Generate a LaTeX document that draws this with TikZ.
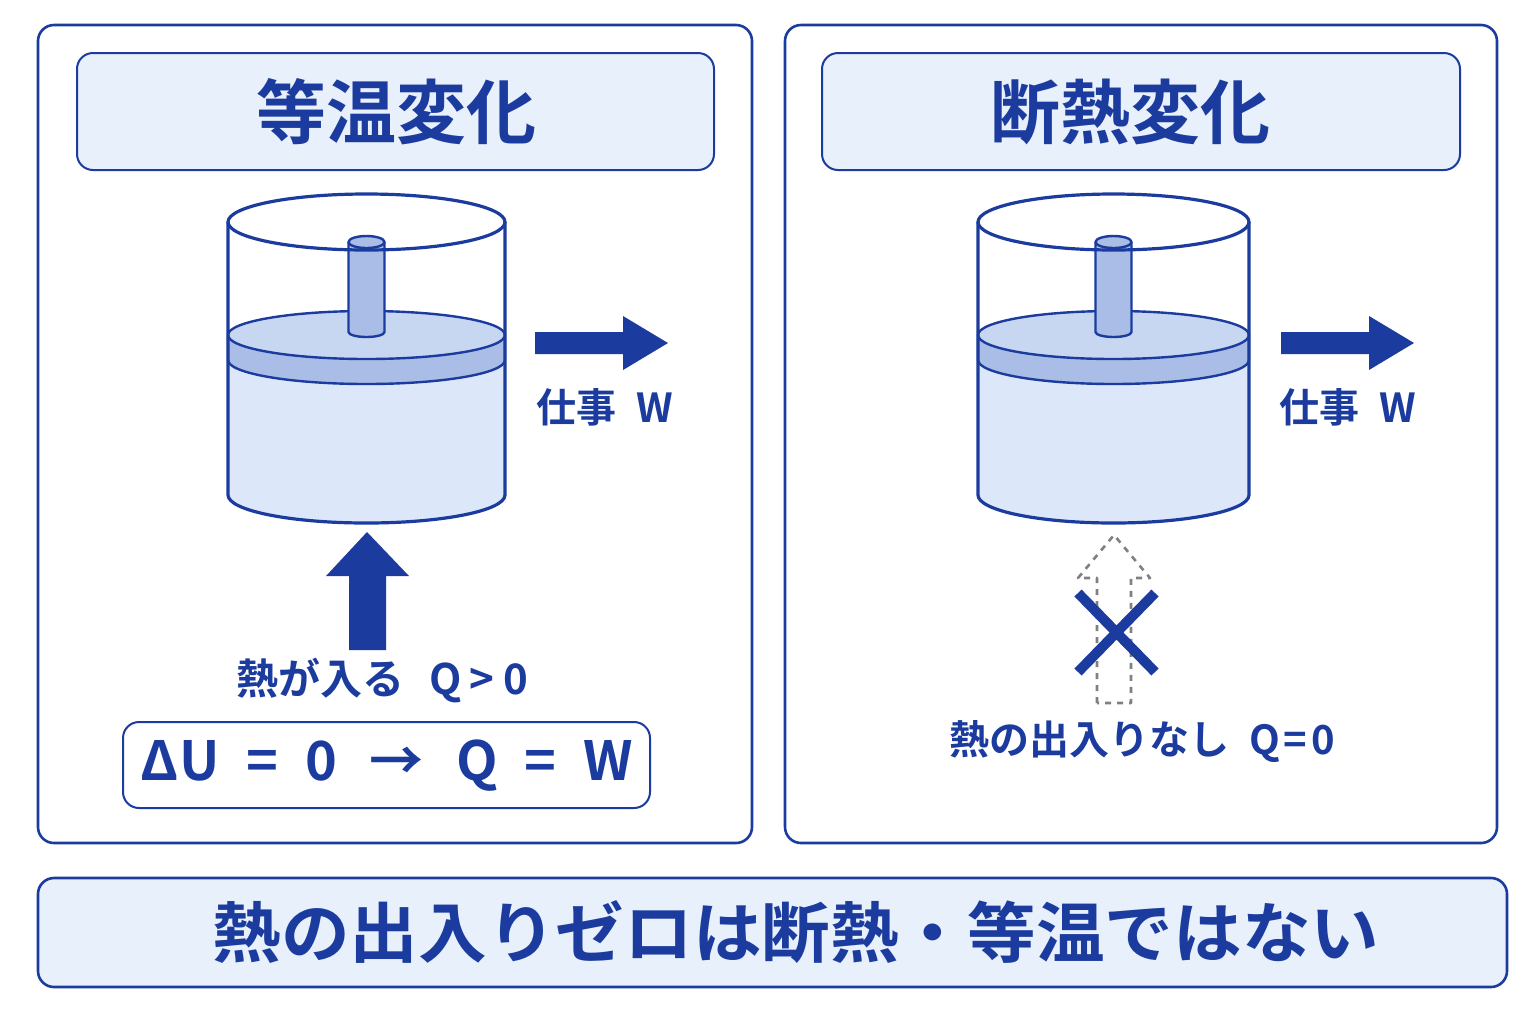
\documentclass[tikz,border=0pt]{standalone}
\usepackage{fontspec}
\setmainfont{Noto Sans CJK JP}[BoldFont={* Bold}]
\begin{document}
\begin{tikzpicture}[x=0.5pt,y=-0.5pt,
 line join=round,
 box/.style={draw=db,line width=1.3pt,rounded corners=8pt},
 tbox/.style={draw=db,fill=lb,line width=1pt,rounded corners=8pt},
 txt/.style={text=db,font=\bfseries}]
\definecolor{db}{HTML}{1B3C9E}
\definecolor{lb}{HTML}{E8F0FB}
\definecolor{liq}{HTML}{DCE8F9}
\definecolor{pis}{HTML}{A9BDE6}
\useasboundingbox (0,0) rectangle (1536,1024);
\fill[white] (0,0) rectangle (1536,1024);
\draw[box] (38,25) rectangle (752,843);
\draw[box] (785,25) rectangle (1497,843);
\draw[tbox] (77,53) rectangle (714,170);
\draw[tbox] (822,53) rectangle (1460,170);
\draw[tbox,line width=1.3pt] (38,878) rectangle (1507,987);
\node[txt,font=\bfseries\fontsize{35}{40}\selectfont] (t1) at (396,112) {等温変化};
\node[txt,font=\bfseries\fontsize{35}{40}\selectfont] (t2) at (1130,112) {断熱変化};
\node[txt,font=\bfseries\fontsize{33}{38}\selectfont,xscale=1.04] (b) at (796,932) {熱の出入りゼロは断熱・等温ではない};
% cylinders
\foreach \xa/\xb in {228/505,978/1249}{
 \pgfmathsetmacro\cx{(\xa+\xb)/2}
 \pgfmathsetmacro\rx{(\xb-\xa)/2}
 \fill[liq] (\xa,360) -- (\xa,495) arc[start angle=180,end angle=0,x radius=\rx,y radius=28] -- (\xb,360) -- cycle;
 % piston
 \fill[pis,draw=db,line width=1.2pt] (\xa,335) -- (\xa,360) arc[start angle=180,end angle=0,x radius=\rx,y radius=24] -- (\xb,335);
 \draw[db,line width=1.2pt,fill=liq!60!pis] (\cx,335) ellipse[x radius=\rx,y radius=24];
 % rod
 \fill[pis,draw=db,line width=1.2pt] (\cx-18,242) -- (\cx-18,332) arc[start angle=180,end angle=0,x radius=18,y radius=5] -- (\cx+18,242);
 \draw[db,line width=1.2pt,fill=pis] (\cx,242) ellipse[x radius=18,y radius=6];
 \draw[db,line width=1.6pt] (\cx,222) ellipse[x radius=\rx,y radius=28];
 \draw[db,line width=1.6pt] (\xa,222) -- (\xa,495) arc[start angle=180,end angle=0,x radius=\rx,y radius=28] -- (\xb,222);
}
% work arrows
\foreach \x in {535,1281}{
 \fill[db] (\x,332) -- (\x+88,332) -- (\x+88,316) -- (\x+133,343) -- (\x+88,370) -- (\x+88,354) -- (\x,354) -- cycle;
}
\node[txt,font=\bfseries\fontsize{20}{22}\selectfont] (w1) at (605,407) {仕事\hspace{0.5em}W};
\node[txt,font=\bfseries\fontsize{20}{22}\selectfont] (w2) at (1348,407) {仕事\hspace{0.5em}W};
% heat in
\fill[db] (349,650) -- (349,576) -- (326,576) -- (367,532) -- (409,576) -- (386,576) -- (386,650) -- cycle;
\node[txt,font=\bfseries\fontsize{21}{24}\selectfont] (q1) at (382,681) {熱が入る\hspace{0.6em}Q\hspace{0.2em}>\hspace{0.2em}0};
\draw[tbox,fill=white] (123,722) rectangle (650,808);
\node[txt,font=\bfseries\fontsize{27}{30}\selectfont] (e) at (387,766) {ΔU\hspace{0.5em}=\hspace{0.5em}0\hspace{0.6em}→\hspace{0.6em}Q\hspace{0.5em}=\hspace{0.5em}W};
% no heat
\draw[gray,dashed,line width=1.3pt] (1097,703) -- (1097,578) -- (1078,578) -- (1114,535) -- (1150,578) -- (1131,578) -- (1131,703) -- cycle;
\draw[db,line width=5pt] (1078,593) -- (1155,672) (1155,593) -- (1078,672);
\node[txt,font=\bfseries\fontsize{20}{22}\selectfont] (q2) at (1142,742) {熱の出入りなし\hspace{0.5em}Q\hspace{0.1em}=\hspace{0.1em}0};
\end{tikzpicture}
\end{document}
